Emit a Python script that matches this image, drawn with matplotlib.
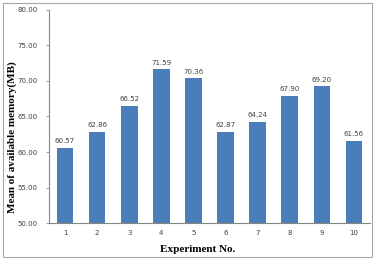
import matplotlib.pyplot as plt
from matplotlib.patches import Rectangle

experiments = ['1', '2', '3', '4', '5', '6', '7', '8', '9', '10']
mean_memory = [60.57, 62.86, 66.52, 71.59, 70.36, 62.87, 64.24, 67.90, 69.20, 61.56]
y_ticks = [50, 55, 60, 65, 70, 75, 80]

W, H = 377, 259
fig = plt.figure(figsize=(W / 100, H / 100), dpi=100)
ax = fig.add_axes([49 / W, 1 - 223.3 / H, (370 - 49) / W, (223.3 - 9.5) / H])

bars = ax.bar(experiments, mean_memory, width=0.52, color='#4a7ebb')
ax.set_ylim(50, 80)
ax.set_xlim(-0.5, len(experiments) - 0.5)
ax.set_yticks(y_ticks)
ax.set_yticklabels([f'{v:.2f}' for v in y_ticks])

for rect, v in zip(bars, mean_memory):
    ax.annotate(f'{v:.2f}', (rect.get_x() + rect.get_width() / 2, v),
                xytext=(0, 2.5), textcoords='offset points',
                ha='center', va='bottom', fontsize=5, color='#404040')

for side in ['top', 'right']:
    ax.spines[side].set_visible(False)
for side in ['left', 'bottom']:
    ax.spines[side].set_color('#868686')
    ax.spines[side].set_linewidth(0.8)

ax.tick_params(axis='y', length=2, width=0.6, color='#868686', labelsize=5,
               labelcolor='#404040', pad=6)
ax.tick_params(axis='x', length=0, labelsize=5, labelcolor='#404040', pad=5)

# axis titles, placed like the original (not centred on the axes)
fig.text(197.5 / W, 1 - 249 / H, 'Experiment No.', family='Liberation Serif',
         fontweight='bold', fontsize=8, ha='center', va='center')
fig.text(12 / W, 1 - 137 / H, 'Mean of available memory(MB)', family='Liberation Serif',
         fontweight='bold', fontsize=8, ha='center', va='center', rotation=90)

fig.patches.append(Rectangle((2.5 / W, 1 - 257 / H), (371.5 - 2.5) / W, (257 - 2.5) / H,
                             transform=fig.transFigure, fill=False,
                             edgecolor='#a6a6a6', linewidth=0.8))

fig.savefig('out.png', dpi=100)
